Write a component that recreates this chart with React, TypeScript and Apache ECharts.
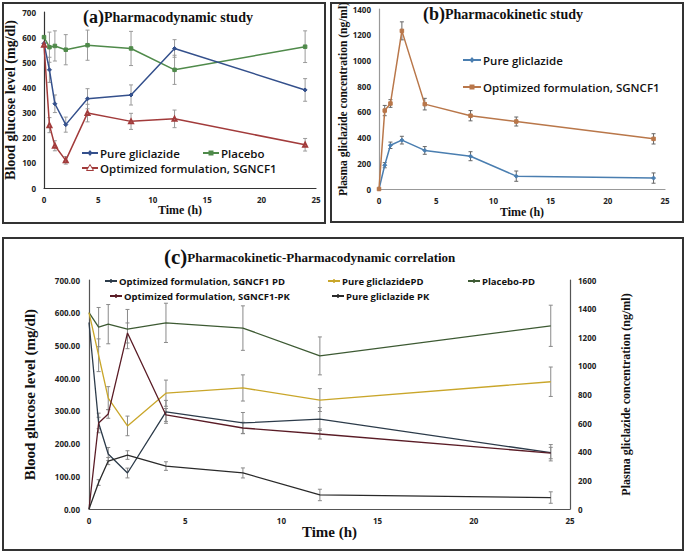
import React, { useEffect, useRef } from "react";
import * as echarts from "echarts";

// ---------- data ----------
const times = [0, 0.5, 1, 2, 4, 8, 12, 24];

// (a) Pharmacodynamic study (mg/dl)
const pdPure = [575, 470, 335, 252, 355, 370, 555, 390];
const pdPureErr = [0, 50, 35, 30, 40, 40, 35, 45];
const pdPlacebo = [600, 560, 565, 550, 568, 555, 470, 562];
const pdPlaceboErr = [0, 60, 60, 60, 60, 68, 58, 63];
const pdOpt = [570, 250, 168, 110, 298, 265, 275, 172];
const pdOptErr = [0, 30, 20, 15, 35, 32, 35, 25];

// (b) Pharmacokinetic study (ng/ml)
const pkPure = [0, 185, 340, 380, 300, 255, 100, 85];
const pkPureErr = [0, 20, 25, 30, 30, 35, 40, 40];
const pkOpt = [0, 610, 665, 1230, 660, 570, 525, 390];
const pkOptErr = [0, 40, 30, 70, 45, 40, 35, 40];

// (c) PK-PD correlation
const cOptPD = [570, 263, 168, 110, 297, 263, 275, 172];
const cOptPDErr = [0, 30, 20, 15, 35, 32, 35, 25];
const cPurePD = [600, 470, 339, 254, 354, 370, 333, 389];
const cPurePDErr = [0, 50, 35, 30, 40, 40, 35, 45];
const cPlaceboPD = [600, 556, 565, 550, 569, 553, 468, 560];
const cPlaceboPDErr = [0, 60, 60, 60, 60, 68, 58, 63];
const cOptPK = [0, 601, 664, 1230, 657, 566, 524, 391];
const cOptPKErr = [0, 40, 30, 70, 45, 40, 35, 40];
const cPurePK = [0, 185, 335, 377, 300, 252, 98, 80];
const cPurePKErr = [0, 20, 25, 30, 30, 35, 40, 40];

const SERIF = "'Liberation Serif', 'Times New Roman', serif";
const SANS = "'Open Sans', 'Noto Sans', sans-serif";

const pairs = (ys: number[]) => times.map((t, i) => [t, ys[i]]);

function errSeries(ys: number[], errs: number[], xi: number, yi: number, color: string) {
  return {
    type: "custom",
    xAxisIndex: xi,
    yAxisIndex: yi,
    silent: true,
    z: 1,
    encode: { x: 0, y: [1, 2] },
    data: times
      .map((t, i) => [t, ys[i] - errs[i], ys[i] + errs[i]])
      .filter((_, i) => errs[i] > 0),
    renderItem: (_p: any, api: any) => {
      const lo = api.coord([api.value(0), api.value(1)]);
      const hi = api.coord([api.value(0), api.value(2)]);
      const w = 2;
      const style = { stroke: color, lineWidth: 1 };
      return {
        type: "group",
        children: [
          { type: "line", shape: { x1: lo[0], y1: lo[1], x2: hi[0], y2: hi[1] }, style },
          { type: "line", shape: { x1: lo[0] - w, y1: lo[1], x2: lo[0] + w, y2: lo[1] }, style },
          { type: "line", shape: { x1: hi[0] - w, y1: hi[1], x2: hi[0] + w, y2: hi[1] }, style },
        ],
      };
    },
  };
}

function legendEl(
  x: number,
  y: number,
  text: string,
  color: string,
  marker: string,
  fontSize: number,
  lineLen = 16,
  weight: any = 600
) {
  const cx = x + lineLen / 2;
  const children: any[] = [
    { type: "line", shape: { x1: x, y1: y, x2: x + lineLen, y2: y }, style: { stroke: color, lineWidth: 2 } },
  ];
  if (marker === "diamond")
    children.push({
      type: "polygon",
      shape: { points: [[cx, y - 3], [cx + 2.5, y], [cx, y + 3], [cx - 2.5, y]] },
      style: { fill: color },
    });
  if (marker === "rect")
    children.push({ type: "rect", shape: { x: cx - 2.5, y: y - 2.5, width: 5, height: 5 }, style: { fill: color } });
  if (marker === "triangle")
    children.push({
      type: "polygon",
      shape: { points: [[cx, y - 3.5], [cx + 3.5, y + 2.5], [cx - 3.5, y + 2.5]] },
      style: { fill: "#fff", stroke: color, lineWidth: 1 },
    });
  if (marker === "dash")
    children.push({ type: "line", shape: { x1: cx, y1: y - 2, x2: cx, y2: y + 2 }, style: { stroke: color, lineWidth: 1.5 } });
  children.push({
    type: "text",
    x: x + lineLen + 2,
    y: y,
    style: {
      text,
      fill: "#111",
      fontSize,
      fontFamily: SANS,
      fontWeight: weight,
      align: "left",
      textAlign: "left",
      verticalAlign: "middle",
      textVerticalAlign: "middle",
    },
  });
  return { type: "group", children };
}

function titleEl(x: number, y: number, tag: string, text: string, tagSize: number, textSize: number) {
  return {
    type: "text",
    x,
    y,
    style: {
      text: `{a|${tag}}{b|${text}}`,
      align: "left",
      textAlign: "left",
      verticalAlign: "middle",
      textVerticalAlign: "middle",
      rich: {
        a: { fontFamily: SERIF, fontWeight: "bold", fontSize: tagSize, fill: "#111", color: "#111" },
        b: { fontFamily: SERIF, fontWeight: "bold", fontSize: textSize, fill: "#111", color: "#111" },
      },
    },
  };
}

const tickLabel = {
  fontFamily: SANS,
  fontWeight: "bold",
  fontSize: 8,
  color: "#222",
  formatter: (v: number) => String(v),
};

function xAxisCfg(grid: number, lineColor: string, name: string, nameSize: number, nameGap: number) {
  return {
    type: "value",
    gridIndex: grid,
    min: 0,
    max: 25,
    interval: 5,
    splitLine: { show: false },
    axisTick: { show: false },
    axisLine: { show: true, onZero: false, lineStyle: { color: lineColor, width: 1.2 } },
    axisLabel: { ...tickLabel, margin: 7 },
    name,
    nameLocation: "middle",
    nameGap,
    nameTextStyle: { fontFamily: SERIF, fontWeight: "bold", fontSize: nameSize, color: "#111" },
  };
}

function yAxisCfg(
  grid: number,
  max: number,
  interval: number,
  lineColor: string,
  name: string,
  nameSize: number,
  nameGap: number,
  extra: any = {}
) {
  return {
    type: "value",
    gridIndex: grid,
    min: 0,
    max,
    interval,
    splitLine: { show: false },
    axisTick: { show: false },
    axisLine: { show: true, onZero: false, lineStyle: { color: lineColor, width: 1.2 } },
    axisLabel: { ...tickLabel, margin: 8 },
    name,
    nameLocation: "middle",
    nameGap,
    nameTextStyle: { fontFamily: SERIF, fontWeight: "bold", fontSize: nameSize, color: "#111" },
    ...extra,
  };
}

function lineSeries(
  name: string,
  ys: number[],
  xi: number,
  yi: number,
  color: string,
  symbol: string,
  symbolSize: number,
  width = 1.5
) {
  return {
    type: "line",
    name,
    xAxisIndex: xi,
    yAxisIndex: yi,
    data: pairs(ys),
    z: 3,
    symbol,
    symbolSize,
    showSymbol: symbol !== "none",
    lineStyle: { color, width },
    itemStyle: { color, borderColor: color },
  };
}

export default function App() {
  const ref = useRef<HTMLDivElement>(null);
  useEffect(() => {
    if (!ref.current) return;
    const chart = echarts.init(ref.current, undefined, { renderer: "svg" });

    const cA = { pure: "#34508c", placebo: "#4f8a4a", opt: "#a23b3b" };
    const cB = { pure: "#4a7eb0", opt: "#b9774a" };
    const cC = { optPD: "#2c3b4a", purePD: "#c9a62a", placebo: "#3d5a33", optPK: "#5a1c26", purePK: "#2a2a2a" };

    const option: any = {
      animation: false,
      backgroundColor: "#ffffff",
      grid: [
        { left: 44, top: 12, width: 272, height: 176, outerBoundsMode: "none" },
        { left: 379, top: 9, width: 286, height: 180, outerBoundsMode: "none" },
        { left: 89, top: 280, width: 481, height: 229, outerBoundsMode: "none" },
      ],
      xAxis: [
        xAxisCfg(0, "#333", "Time (h)", 12, 16),
        xAxisCfg(1, "#999", "Time (h)", 12, 17),
        xAxisCfg(2, "#555", "Time (h)", 15, 15),
      ],
      yAxis: [
        yAxisCfg(0, 700, 100, "#333", "Blood glucose level (mg/dl)", 14, 27),
        yAxisCfg(1, 1400, 200, "#999", "Plasma gliclazide concentration (ng/ml)", 11.5, 27),
        yAxisCfg(2, 700, 100, "#555", "Blood glucose level (mg/dl)", 15, 52, {
          axisLabel: { ...tickLabel, margin: 9, formatter: (v: number) => v.toFixed(2) },
        }),
        yAxisCfg(2, 1600, 200, "#555", "Plasma gliclazide concentration (ng/ml)", 12, 50, {
          position: "right",
        }),
      ],
      series: [
        // (a)
        errSeries(pdPlacebo, pdPlaceboErr, 0, 0, "#9a9a9a"),
        errSeries(pdPure, pdPureErr, 0, 0, "#9a9a9a"),
        errSeries(pdOpt, pdOptErr, 0, 0, "#9a9a9a"),
        lineSeries("Placebo", pdPlacebo, 0, 0, cA.placebo, "rect", 3.5),
        lineSeries("Pure gliclazide", pdPure, 0, 0, cA.pure, "diamond", 4),
        lineSeries("Optimized formulation, SGNCF1", pdOpt, 0, 0, cA.opt, "emptyTriangle", 4),
        // (b)
        errSeries(pkPure, pkPureErr, 1, 1, "#666"),
        errSeries(pkOpt, pkOptErr, 1, 1, "#666"),
        lineSeries("PK Pure gliclazide", pkPure, 1, 1, cB.pure, "diamond", 4),
        lineSeries("PK Optimized formulation, SGNCF1", pkOpt, 1, 1, cB.opt, "rect", 3.5),
        // (c)
        errSeries(cPlaceboPD, cPlaceboPDErr, 2, 2, "#8a8a8a"),
        errSeries(cPurePD, cPurePDErr, 2, 2, "#8a8a8a"),
        errSeries(cOptPD, cOptPDErr, 2, 2, "#8a8a8a"),
        errSeries(cOptPK, cOptPKErr, 2, 3, "#8a8a8a"),
        errSeries(cPurePK, cPurePKErr, 2, 3, "#8a8a8a"),
        lineSeries("Placebo-PD", cPlaceboPD, 2, 2, cC.placebo, "none", 0, 1.3),
        lineSeries("Pure gliclazidePD", cPurePD, 2, 2, cC.purePD, "none", 0, 1.3),
        lineSeries("Optimized formulation, SGNCF1 PD", cOptPD, 2, 2, cC.optPD, "none", 0, 1.3),
        lineSeries("Optimized formulation, SGNCF1-PK", cOptPK, 2, 3, cC.optPK, "none", 0, 1.3),
        lineSeries("Pure gliclazide PK", cPurePK, 2, 3, cC.purePK, "none", 0, 1.3),
      ],
      graphic: [
        // frames
        { type: "rect", shape: { x: 3, y: 3, width: 322, height: 220 }, style: { fill: "none", stroke: "#333", lineWidth: 2 }, z: -1 },
        { type: "rect", shape: { x: 331, y: 3, width: 352, height: 219 }, style: { fill: "none", stroke: "#333", lineWidth: 2 }, z: -1 },
        { type: "rect", shape: { x: 3, y: 238, width: 680, height: 312 }, style: { fill: "none", stroke: "#333", lineWidth: 2 }, z: -1 },
        // titles
        titleEl(83, 17, "(a)", "Pharmacodynamic study", 18, 14),
        titleEl(423, 14, "(b)", "Pharmacokinetic study", 18, 14),
        titleEl(164, 257, "(c)", "Pharmacokinetic-Pharmacodynamic correlation", 21, 13),
        // legends (a)
        legendEl(82, 153, "Pure gliclazide", cA.pure, "diamond", 11.5),
        legendEl(203, 153, "Placebo", cA.placebo, "rect", 11.5),
        legendEl(82, 168, "Optimized formulation, SGNCF1", cA.opt, "triangle", 11.5),
        // legends (b)
        legendEl(463, 60, "Pure gliclazide", cB.pure, "diamond", 11.5, 18),
        legendEl(463, 87, "Optimized formulation, SGNCF1", cB.opt, "rect", 11.5, 18),
        // legends (c)
        legendEl(105, 281, "Optimized formulation, SGNCF1 PD", cC.optPD, "dash", 9.5, 12, 700),
        legendEl(328, 281, "Pure gliclazidePD", cC.purePD, "dash", 9.5, 12, 700),
        legendEl(468, 281, "Placebo-PD", cC.placebo, "dash", 9.5, 12, 700),
        legendEl(110, 296, "Optimized formulation, SGNCF1-PK", cC.optPK, "dash", 9.5, 12, 700),
        legendEl(332, 296, "Pure gliclazide PK", cC.purePK, "dash", 9.5, 12, 700),
      ],
    };
    chart.setOption(option);
    return () => chart.dispose();
  }, []);

  return (
    <div
      ref={ref}
      style={{ position: "absolute", left: 0, top: 0, width: 685, height: 554, background: "#fff" }}
    />
  );
}
